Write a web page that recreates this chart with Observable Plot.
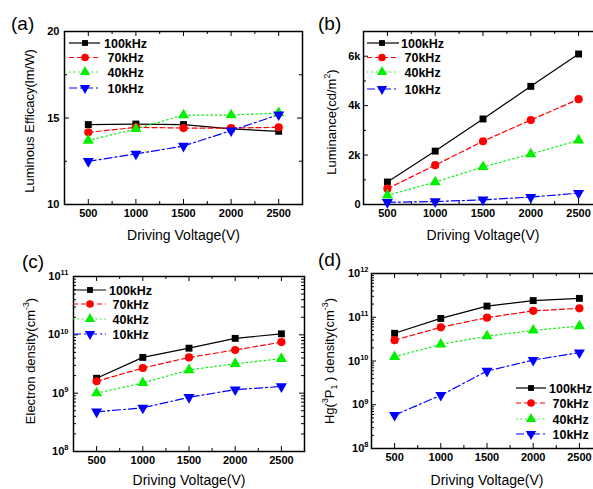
<!DOCTYPE html>
<html><head><meta charset="utf-8">
<script src="https://cdn.jsdelivr.net/npm/d3@7"></script>
<script src="https://cdn.jsdelivr.net/npm/@observablehq/plot@0.6"></script>
<style>
html,body{margin:0;padding:0;background:#fff;}
#root{position:relative;width:593px;height:489px;overflow:hidden;background:#fff;font-family:"Liberation Sans",Arial,sans-serif;}
.panel{position:absolute;}
.tag{position:absolute;font-size:19px;line-height:20px;color:#000;}
</style></head><body><div id="root"></div>
<script>
// ---- data ----
const voltages = [500, 1000, 1500, 2000, 2500];
const frequencies = ["100kHz", "70kHz", "40kHz", "10kHz"];

const efficacy100 = [14.62, 14.65, 14.62, 14.37, 14.23];
const efficacy70  = [14.17, 14.46, 14.42, 14.42, 14.46];
const efficacy40  = [13.70, 14.37, 15.17, 15.17, 15.29];
const efficacy10  = [12.50, 12.92, 13.38, 14.27, 15.19];

const luminance100 = [910, 2160, 3460, 4780, 6090];
const luminance70  = [640, 1590, 2560, 3420, 4260];
const luminance40  = [370, 910, 1520, 2040, 2600];
const luminance10  = [90, 120, 190, 300, 460];

const electron100 = [1.8e9, 4.1e9, 5.9e9, 8.7e9, 1.04e10];
const electron70  = [1.6e9, 2.7e9, 4.1e9, 5.5e9, 7.5e9];
const electron40  = [1.0e9, 1.5e9, 2.5e9, 3.2e9, 3.9e9];
const electron10  = [4.8e8, 5.6e8, 8.5e8, 1.15e9, 1.3e9];

const hg100 = [4.3e10, 9.4e10, 1.8e11, 2.4e11, 2.7e11];
const hg70  = [3.0e10, 5.9e10, 9.8e10, 1.4e11, 1.6e11];
const hg40  = [1.25e10, 2.4e10, 3.7e10, 5.0e10, 6.3e10];
const hg10  = [5.8e8, 1.65e9, 5.9e9, 1.05e10, 1.55e10];

// ---- ticks ----
const xTicks = [500, 1000, 1500, 2000, 2500];
const xMinorTicks = [750, 1250, 1750, 2250];
const efficacyTicks = [10, 15, 20];
const efficacyMinor = [12.5, 17.5];
const luminanceTicks = [0, 2000, 4000, 6000];
const luminanceTickLabels = ["0", "2k", "4k", "6k"];
const luminanceMinor = [1000, 3000, 5000];
const electronTicks = [1e8, 1e9, 1e10, 1e11];
const hgTicks = [1e8, 1e9, 1e10, 1e11, 1e12];

// ---- styles ----
const colors = ["#000000", "#ff0000", "#00f000", "#0000ff"];
const dashes = [null, "5,3", "1.5,3", "8,3,2,3"];
const symbols = ["square", "circle", "triangle", "triangle"];
const rotations = [0, 0, 0, 180];
const d3Symbols = {square: d3.symbolSquare, circle: d3.symbolCircle, triangle: d3.symbolTriangle};

function logMinor(ticks) {
  const out = [];
  for (let i = 0; i < ticks.length - 1; i++) for (let k = 2; k <= 9; k++) out.push(ticks[i] * k);
  return out;
}
function logLabel(d) { return "10^{" + Math.round(Math.log10(d)) + "}"; }

const NS = "http://www.w3.org/2000/svg";
function richify(svg) {
  svg.querySelectorAll("text").forEach(t => {
    const s = t.textContent;
    if (!/[\^_]\{/.test(s)) return;
    const fs = parseFloat(getComputedStyle(t).fontSize) || 12;
    t.textContent = "";
    const re = /([\^_])\{([^}]*)\}/g;
    let last = 0, cur = 0, m;
    const add = (str, shift, small) => {
      if (!str) return;
      const ts = document.createElementNS(NS, "tspan");
      ts.setAttribute("dy", (shift - cur) + "px");
      if (small) ts.setAttribute("font-size", (fs * 0.68) + "px");
      ts.textContent = str;
      t.appendChild(ts);
      cur = shift;
    };
    while ((m = re.exec(s))) {
      add(s.slice(last, m.index), 0, false);
      add(m[2], m[1] === "^" ? -fs * 0.42 : fs * 0.25, true);
      last = re.lastIndex;
    }
    add(s.slice(last), 0, false);
  });
}

function legendMark(cfg) {
  return (index, scales, values, dims) => {
    const L = dims && dims.marginLeft != null ? dims.marginLeft : 60;
    const T = dims && dims.marginTop != null ? dims.marginTop : 12;
    const g = d3.create("svg:g");
    frequencies.forEach((f, i) => {
      const y = T + cfg.rows[i];
      g.append("line")
        .attr("x1", L + cfg.x1).attr("x2", L + cfg.x2).attr("y1", y).attr("y2", y)
        .attr("stroke", colors[i]).attr("stroke-width", 1.2)
        .attr("stroke-dasharray", dashes[i]);
      const r = symbols[i] === "square" ? 3.3 : 3.8;
      g.append("path")
        .attr("d", d3.symbol(d3Symbols[symbols[i]], Math.PI * r * r)())
        .attr("transform", `translate(${L + cfg.mx},${y}) rotate(${rotations[i]})`)
        .attr("fill", colors[i]);
      g.append("text")
        .attr("x", L + (i === 0 ? cfg.tx : cfg.tx + 3.5)).attr("y", y).attr("dy", "0.36em")
        .attr("text-anchor", "start")
        .attr("font-size", 12.5).attr("font-weight", "bold").attr("fill", "#000")
        .text(f);
    });
    return g.node();
  };
}

function panel(p) {
  const mL = 60, mR = 12, mT = 12, mB = 45;
  const fw = p.frame[1] - p.frame[0], fh = p.frame[3] - p.frame[2];
  const W = fw + mL + mR, H = fh + mT + mB;
  const marks = [];
  p.series.forEach((arr, i) => {
    const rows = voltages.map((v, j) => ({v, val: arr[j], f: frequencies[i]}));
    marks.push(Plot.line(rows, {x: "v", y: "val", stroke: colors[i], strokeWidth: 1.2, strokeDasharray: dashes[i]}));
  });
  p.series.forEach((arr, i) => {
    const rows = voltages.map((v, j) => ({v, val: arr[j], f: frequencies[i]}));
    marks.push(Plot.dot(rows, {x: "v", y: "val", symbol: symbols[i], fill: colors[i], r: symbols[i] === "square" ? 3.9 : 4.1, rotate: rotations[i]}));
  });
  const svg = Plot.plot({
    width: W, height: H,
    marginLeft: mL, marginRight: mR, marginTop: mT, marginBottom: mB,
    style: {fontFamily: '"Liberation Sans", Arial, sans-serif', background: "transparent", overflow: "visible", maxWidth: "none", color: "#000"},
    x: {domain: [250, 2750]},
    y: p.log ? {type: "log", domain: p.yDomain} : {domain: p.yDomain},
    marks: [
      Plot.tickX(xTicks, {x: d => d, insetTop: fh - 5, strokeWidth: 1}),
      Plot.tickX(xTicks, {x: d => d, insetBottom: fh - 5, strokeWidth: 1}),
      Plot.tickX(xMinorTicks, {x: d => d, insetTop: fh - 3, strokeWidth: 1}),
      Plot.tickX(xMinorTicks, {x: d => d, insetBottom: fh - 3, strokeWidth: 1}),
      Plot.tickY(p.yTicks, {y: d => d, insetRight: fw - 5, strokeWidth: 1}),
      Plot.tickY(p.yTicks, {y: d => d, insetLeft: fw - 5, strokeWidth: 1}),
      Plot.tickY(p.yMinor, {y: d => d, insetRight: fw - 3, strokeWidth: 1}),
      Plot.tickY(p.yMinor, {y: d => d, insetLeft: fw - 3, strokeWidth: 1}),
      Plot.frame({stroke: "#000", strokeWidth: 1.5}),
      Plot.axisX({ticks: xTicks, tickSize: 0, tickPadding: 5, tickFormat: d => String(d), label: null, fontSize: 11, fontWeight: "bold"}),
      Plot.axisY({ticks: p.yTicks, tickSize: 0, tickPadding: p.yPad, tickFormat: p.yFormat, label: null, fontSize: 11, fontWeight: "bold"}),
      Plot.text([p.yLabel], {text: d => d, frameAnchor: "left", textAnchor: "middle", lineAnchor: "middle", rotate: -90, dx: p.yLabelDx, dy: p.yLabelDy, fontSize: 13, fill: "#000"}),
      Plot.text(["Driving Voltage(V)"], {text: d => d, frameAnchor: "bottom", textAnchor: "middle", lineAnchor: "middle", dy: p.xLabelDy, fontSize: 14, fill: "#000"}),
      ...marks,
      legendMark(p.legend)
    ]
  });
  const div = document.createElement("div");
  div.className = "panel";
  div.style.left = (p.frame[0] - mL) + "px";
  div.style.top = (p.frame[2] - mT) + "px";
  div.appendChild(svg);
  document.getElementById("root").appendChild(div);
  richify(svg);
  const tag = document.createElement("div");
  tag.className = "tag";
  tag.style.left = p.tag[1] + "px";
  tag.style.top = p.tag[2] + "px";
  tag.textContent = p.tag[0];
  document.getElementById("root").appendChild(tag);
}

panel({
  frame: [64, 302, 31, 204],
  yDomain: [10, 20], yTicks: efficacyTicks, yMinor: efficacyMinor, yPad: 5, yFormat: d => String(d),
  yLabel: "Luminous Efficacy(lm/W)", yLabelDx: -35, yLabelDy: 3, xLabelDy: 31,
  series: [efficacy100, efficacy70, efficacy40, efficacy10],
  legend: {x1: 5, x2: 36, mx: 21, tx: 40, rows: [12, 26.5, 41, 57]},
  tag: ["(a)", 11, 14]
});
panel({
  frame: [363, 602, 31, 204],
  yDomain: [0, 7000], yTicks: luminanceTicks, yMinor: luminanceMinor, yPad: 3,
  yFormat: d => luminanceTickLabels[luminanceTicks.indexOf(d)],
  yLabel: "Luminance(cd/m^{2})", yLabelDx: -32, yLabelDy: 4, xLabelDy: 31,
  series: [luminance100, luminance70, luminance40, luminance10],
  legend: {x1: 4, x2: 36, mx: 19, tx: 38, rows: [12, 26.5, 41, 58]},
  tag: ["(b)", 318, 14]
});
panel({
  frame: [73, 304, 276, 451], log: true,
  yDomain: [1e8, 1e11], yTicks: electronTicks, yMinor: logMinor(electronTicks), yPad: 5, yFormat: logLabel,
  yLabel: "Electron density(cm^{-3})", yLabelDx: -43, yLabelDy: -3, xLabelDy: 29,
  series: [electron100, electron70, electron40, electron10],
  legend: {x1: 0, x2: 33, mx: 17, tx: 36, rows: [14, 28, 43, 58]},
  tag: ["(c)", 22, 252]
});
panel({
  frame: [371, 602, 273, 448], log: true,
  yDomain: [1e8, 1e12], yTicks: hgTicks, yMinor: logMinor(hgTicks), yPad: 3, yFormat: logLabel,
  yLabel: "Hg(^{3}P_{1} ) density(cm^{-3})", yLabelDx: -42, yLabelDy: 0, xLabelDy: 32,
  series: [hg100, hg70, hg40, hg10],
  legend: {x1: 145, x2: 175, mx: 160, tx: 178, rows: [115, 130, 146, 161]},
  tag: ["(d)", 318, 250]
});
</script>
</body></html>
